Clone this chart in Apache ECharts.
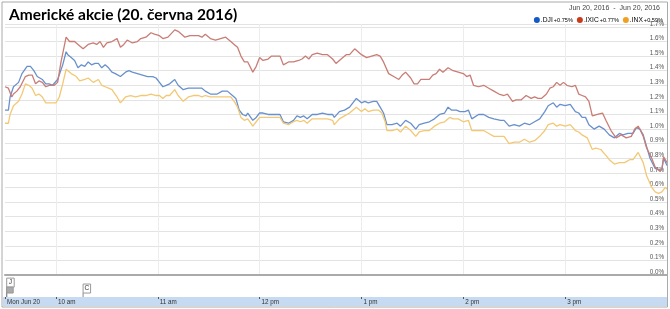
<!DOCTYPE html>
<html>
<head>
<meta charset="utf-8">
<script src="https://cdn.jsdelivr.net/npm/echarts@6/dist/echarts.min.js"></script>
<style>html,body{margin:0;padding:0;background:#fff}#c{width:670px;height:309px}</style>
</head>
<body>
<div id="c"></div>
<script>
// ---- data (minutes after 9:30, % change) ----
const seriesNames = ['.DJI', '.IXIC', '.INX'];
const changes = ['+0.75%', '+0.77%', '+0.59%'];
const dateRange = 'Jun 20, 2016  -  Jun 20, 2016';
const titleText = 'Americké akcie (20. června 2016)';

const djiT = [0,2,3,5,8,10,13,15,17,19,22,24,26,28,31,34,36,37,39,41,43,45,47,49,51,53,55,57,59,61,63,65,68,71,73,75,78,81,84,87,89,91,93,95,97,100,102,105,108,111,114,116,118,121,125,128,131,134,136,138,140,142,143,146,148,150,152,155,159,162,164,167,170,172,174,176,178,181,184,187,190,193,194,197,200,203,207,210,212,214,217,219,221,223,225,228,231,233,236,239,242,244,247,250,253,256,259,261,263,266,268,271,273,275,279,282,285,288,292,294,297,300,303,306,309,312,315,318,320,323,325,327,330,333,336,338,340,342,344,347,350,353,356,359,362,364,367,370,372,374,376,378,380,383,385,387,388,390];
const djiV = [1.13,1.13,1.22,1.29,1.32,1.38,1.43,1.43,1.40,1.36,1.34,1.31,1.31,1.30,1.34,1.44,1.53,1.51,1.49,1.47,1.42,1.44,1.43,1.46,1.44,1.45,1.45,1.42,1.44,1.42,1.39,1.38,1.36,1.39,1.40,1.39,1.38,1.37,1.36,1.36,1.35,1.32,1.29,1.30,1.31,1.34,1.30,1.27,1.28,1.28,1.28,1.28,1.26,1.24,1.24,1.26,1.26,1.23,1.21,1.13,1.10,1.09,1.11,1.06,1.08,1.11,1.11,1.10,1.10,1.10,1.05,1.04,1.06,1.09,1.08,1.09,1.07,1.10,1.10,1.11,1.10,1.10,1.08,1.12,1.13,1.15,1.21,1.18,1.19,1.18,1.19,1.19,1.15,1.11,1.03,1.03,1.04,1.02,1.06,1.04,1.00,1.03,1.04,1.05,1.07,1.10,1.11,1.15,1.13,1.13,1.12,1.12,1.13,1.07,1.10,1.10,1.08,1.07,1.06,1.06,1.02,1.03,1.02,1.04,1.03,1.05,1.07,1.12,1.16,1.18,1.15,1.17,1.16,1.17,1.12,1.11,1.08,1.08,1.03,1.00,1.02,1.00,0.96,0.94,0.97,0.96,0.97,0.97,1.01,1.00,0.96,0.88,0.80,0.73,0.72,0.72,0.80,0.75];

const ixicT = [0,2,4,5,7,9,12,14,16,18,20,22,24,26,29,31,33,36,38,41,43,46,49,52,54,56,58,60,63,66,68,70,72,75,78,80,83,86,88,91,93,96,100,102,106,109,112,114,116,118,121,124,127,130,133,135,137,139,141,143,144,146,148,150,152,155,157,159,162,164,167,170,173,175,177,179,181,184,187,190,193,195,198,201,203,206,208,210,213,216,219,221,223,226,229,232,234,236,239,241,243,245,248,250,252,254,256,258,261,264,267,270,272,274,276,279,282,285,288,291,294,296,299,301,304,307,310,312,314,316,319,321,323,325,327,329,331,334,336,338,340,342,344,346,349,352,354,357,360,363,366,369,371,373,374,376,378,381,383,386,387,388,390];
const ixicV = [1.29,1.28,1.22,1.24,1.26,1.29,1.36,1.37,1.37,1.31,1.33,1.32,1.29,1.30,1.30,1.32,1.46,1.63,1.60,1.60,1.58,1.55,1.58,1.59,1.58,1.60,1.56,1.59,1.60,1.62,1.56,1.58,1.61,1.59,1.60,1.62,1.63,1.66,1.65,1.64,1.62,1.63,1.68,1.67,1.63,1.64,1.64,1.64,1.63,1.65,1.62,1.61,1.62,1.63,1.60,1.58,1.56,1.50,1.46,1.46,1.47,1.39,1.43,1.49,1.47,1.48,1.50,1.50,1.50,1.44,1.46,1.46,1.47,1.48,1.50,1.48,1.51,1.52,1.51,1.51,1.48,1.45,1.48,1.51,1.51,1.55,1.53,1.51,1.49,1.50,1.51,1.50,1.46,1.38,1.36,1.34,1.37,1.39,1.35,1.31,1.31,1.34,1.34,1.34,1.37,1.38,1.41,1.39,1.42,1.40,1.39,1.38,1.36,1.37,1.30,1.29,1.30,1.28,1.26,1.24,1.23,1.24,1.19,1.20,1.20,1.23,1.21,1.22,1.21,1.21,1.24,1.28,1.29,1.32,1.30,1.32,1.30,1.29,1.30,1.24,1.23,1.22,1.19,1.09,1.10,1.11,1.06,0.99,0.94,0.96,0.94,0.95,1.00,1.02,1.00,0.95,0.87,0.80,0.74,0.71,0.73,0.81,0.77];

const inxT = [0,2,3,5,8,10,12,14,16,18,20,22,24,26,28,30,32,34,36,39,42,44,47,49,52,55,57,59,61,63,66,68,71,74,77,80,83,86,89,91,93,95,97,100,102,105,108,111,114,116,118,121,124,127,130,133,135,137,139,141,143,146,148,150,152,155,159,162,164,167,170,172,174,176,178,181,184,187,190,193,194,197,200,203,207,210,212,214,217,220,222,224,225,228,231,233,236,239,242,244,247,250,253,256,259,262,264,267,270,273,275,279,282,285,288,292,294,297,300,303,306,309,312,315,318,320,323,325,327,330,333,336,338,340,343,346,348,351,354,356,359,362,365,368,370,373,374,376,378,381,383,385,387,389,390];
const inxV = [1.04,1.04,1.10,1.16,1.19,1.24,1.31,1.30,1.28,1.23,1.24,1.22,1.18,1.18,1.18,1.18,1.22,1.31,1.41,1.38,1.36,1.33,1.34,1.35,1.32,1.34,1.30,1.29,1.28,1.27,1.22,1.18,1.22,1.23,1.22,1.23,1.23,1.24,1.23,1.23,1.21,1.23,1.23,1.27,1.23,1.19,1.22,1.23,1.23,1.22,1.23,1.22,1.22,1.22,1.22,1.22,1.19,1.15,1.08,1.06,1.07,1.02,1.05,1.08,1.08,1.08,1.08,1.08,1.04,1.03,1.05,1.06,1.05,1.06,1.04,1.07,1.07,1.07,1.07,1.06,1.03,1.07,1.09,1.11,1.15,1.12,1.14,1.12,1.13,1.13,1.11,1.05,0.99,0.99,1.00,0.98,1.02,0.99,0.95,0.98,0.99,0.99,1.02,1.04,1.05,1.08,1.07,1.07,1.05,1.06,0.99,0.99,0.99,0.97,0.95,0.95,0.95,0.90,0.91,0.91,0.93,0.91,0.92,0.95,0.99,1.03,1.04,1.02,1.03,1.02,1.03,0.99,0.98,0.96,0.94,0.86,0.87,0.86,0.82,0.79,0.76,0.77,0.77,0.79,0.79,0.84,0.83,0.77,0.68,0.60,0.57,0.56,0.57,0.60,0.59];

const tickMinutes = [0, 30, 90, 150, 210, 270, 330];
const tickLabels = ['Mon Jun 20', '10 am', '11 am', '12 pm', '1 pm', '2 pm', '3 pm'];

// news flags: time (min), level in flag strip (0..1), letter
const flagT = [1, 1, 46];
const flagLevel = [0.45, 0.18, 0.18];
const flagText = ['J', '', 'C'];

// ---- chart ----
const lineColors = ['#6890cc', '#c97d75', '#f3c874'];
const nameColors = ['#1558c8', '#c83a1a', '#f0a020'];
const allT = [djiT, ixicT, inxT];
const allV = [djiV, ixicV, inxV];

const chart = echarts.init(document.getElementById('c'), null, {renderer: 'canvas'});

let legendText = '';
const rich = {
  c: {fontSize: 5.6, color: '#3a9a3a', fontFamily: 'Liberation Sans', padding: [0, 4, 0, 1]}
};
seriesNames.forEach((n, i) => {
  legendText += `{d${i}|}{n${i}|${n}}{c|${changes[i]}}`;
  rich['d' + i] = {width: 6, height: 6, borderRadius: 3, backgroundColor: nameColors[i]};
  rich['n' + i] = {fontSize: 6.7, color: nameColors[i], fontFamily: 'Liberation Sans', padding: [0, 0, 0, 1]};
});

const option = {
  animation: false,
  title: {
    text: titleText, left: 4, top: 2,
    textStyle: {fontFamily: 'Lato', fontWeight: 'bold', fontSize: 15.5, color: '#000'}
  },
  graphic: [
    {type: 'rect', z: -10, shape: {x: 3, y: 297, width: 664, height: 9}, style: {fill: '#c6daf1'}},
    {type: 'rect', z: 100, shape: {x: 2, y: 2, width: 665.5, height: 305}, style: {fill: 'none', stroke: '#aaa', lineWidth: 1}},
    {type: 'text', right: 10, top: 5, style: {text: dateRange, fontSize: 7, fontFamily: 'Liberation Sans', fill: '#444'}},
    {type: 'text', right: 7, top: 14, style: {text: legendText, rich: rich, fontFamily: 'Liberation Sans'}}
  ],
  grid: [
    {left: 5, right: 3, top: 24, bottom: 34},
    {left: 5, right: 3, top: 275, height: 22}
  ],
  xAxis: [
    {
      type: 'value', gridIndex: 0, min: 0, max: 390, interval: 30,
      axisLine: {show: true, lineStyle: {color: '#aaa', width: 2}},
      axisTick: {show: false}, axisLabel: {show: false},
      splitLine: {show: true, lineStyle: {color: ['rgba(0,0,0,0)', '#ececec']}}
    },
    {
      type: 'value', gridIndex: 1, min: 0, max: 390, position: 'bottom',
      axisLine: {show: false},
      splitLine: {show: false},
      axisTick: {show: true, customValues: tickMinutes, length: 2, lineStyle: {color: '#555'}},
      axisLabel: {
        show: true, customValues: tickMinutes, align: 'left', margin: 2,
        fontSize: 6.3, color: '#333', fontFamily: 'Liberation Sans', padding: [0, 0, 0, 2],
        formatter: v => { const i = tickMinutes.indexOf(v); return i >= 0 ? tickLabels[i] : ''; }
      }
    }
  ],
  yAxis: [
    {
      type: 'value', gridIndex: 0, min: 0, max: 1.72, interval: 0.1, position: 'right',
      axisLine: {show: false}, axisTick: {show: false},
      splitLine: {show: true, lineStyle: {color: '#e3e3e3'}},
      axisLabel: {
        inside: true, margin: 3, fontSize: 6.3, color: '#555', fontFamily: 'Liberation Sans',
        verticalAlign: 'bottom',
        formatter: v => (Math.abs(v * 10 - Math.round(v * 10)) > 0.01 ? '' : v.toFixed(1) + '%')
      }
    },
    {type: 'value', gridIndex: 1, min: 0, max: 1, show: false}
  ],
  series: seriesNames.map((n, i) => ({
    name: n, type: 'line', xAxisIndex: 0, yAxisIndex: 0,
    showSymbol: false, symbol: 'none',
    lineStyle: {width: 1.3, color: lineColors[i]},
    data: allT[i].map((t, k) => [t, allV[i][k]])
  })).concat([{
    type: 'custom', xAxisIndex: 1, yAxisIndex: 1,
    data: flagT.map((t, k) => [t, flagLevel[k]]),
    renderItem: (params, api) => {
      const k = params.dataIndex;
      const p = api.coord([api.value(0), api.value(1)]);
      const base = api.coord([api.value(0), 0]);
      const letter = flagText[k];
      const h = letter ? 9 : 6;
      const w = letter ? 7.5 : 6.5;
      const children = [
        {type: 'line', shape: {x1: p[0], y1: p[1], x2: p[0], y2: base[1]}, style: {stroke: '#888', lineWidth: 1}},
        {type: 'rect', shape: {x: p[0], y: p[1] - h, width: w, height: h},
         style: {fill: letter ? '#fff' : '#aaa', stroke: '#999', lineWidth: 1}}
      ];
      if (letter) {
        children.push({type: 'text', style: {text: letter, x: p[0] + w / 2, y: p[1] - h / 2,
          align: 'center', verticalAlign: 'middle', fontSize: 6.5, fontFamily: 'Liberation Sans', fill: '#333'}});
      }
      return {type: 'group', children};
    }
  }])
};
chart.setOption(option);
</script>
</body>
</html>
